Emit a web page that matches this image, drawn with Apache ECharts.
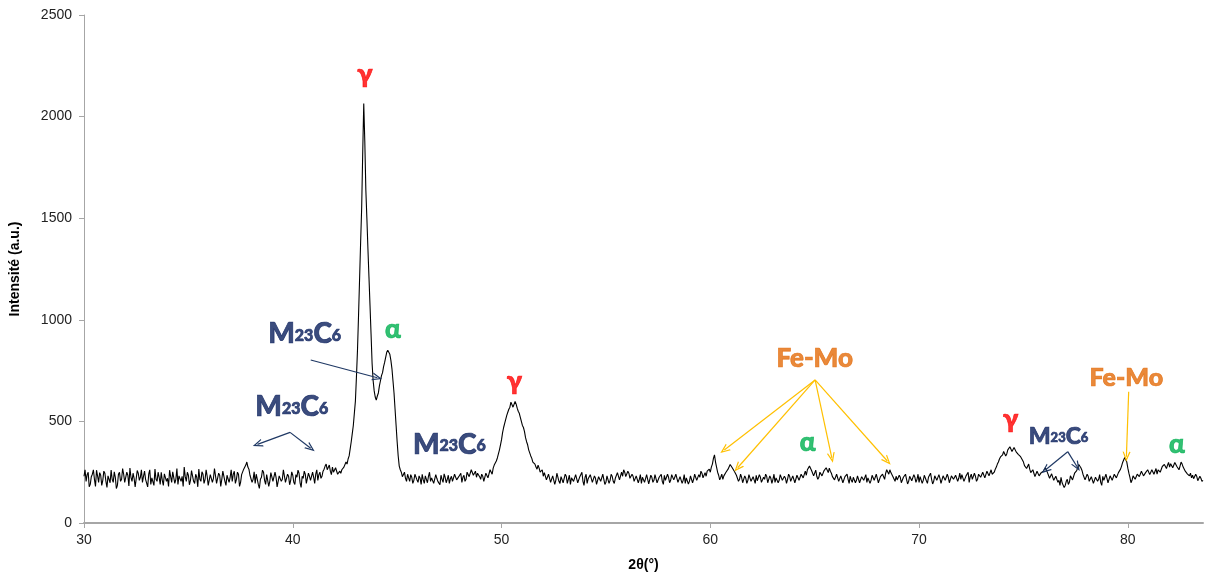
<!DOCTYPE html>
<html>
<head>
<meta charset="utf-8">
<script src="https://cdn.jsdelivr.net/npm/echarts@6/dist/echarts.min.js"></script>
<style>
html,body{margin:0;padding:0;background:#fff;}
#chart{width:1206px;height:579px;}
</style>
</head>
<body>
<div id="chart"></div>
<script>
// ---- data ----
const thetaStart = 30;   // first 2θ sample (°)
const thetaStep = 0.05;  // sampling step (°)
const intensity = [
230,262,205,238,250,178,190,228,240,262,215,180,260,232,200,248,235,185,210,255,
245,205,175,232,230,198,260,215,200,252,225,170,185,240,250,205,215,268,240,200,
195,250,235,182,270,225,205,245,220,178,180,258,245,210,225,262,200,230,255,215,
215,178,240,262,190,222,230,185,265,215,205,250,225,190,250,210,185,242,235,205,
220,180,260,228,200,252,245,195,215,268,190,232,240,205,230,180,275,228,205,250,
235,188,210,258,250,205,195,240,225,178,265,215,205,252,240,195,215,262,230,185,
190,238,245,200,220,268,260,195,200,245,235,180,215,255,250,205,185,235,240,200,
225,262,205,240,255,195,215,250,240,180,200,238,230,265,260,285,300,275,265,235,
240,200,215,252,195,240,235,190,170,215,225,260,250,210,190,238,230,180,205,248,
245,205,200,250,225,178,180,232,240,205,215,262,255,200,195,240,230,188,210,252,
235,200,190,238,225,260,245,198,175,230,220,255,240,195,200,245,230,210,215,250,
225,195,240,262,210,238,250,220,230,255,265,280,290,262,270,285,255,238,275,250,
250,272,265,240,235,255,245,262,260,275,280,300,290,315,330,365,400,440,480,540,
600,720,850,1020,1200,1380,1550,1820,2065,1880,1640,1500,1350,1210,1070,930,785,700,650,620,
605,625,640,675,700,725,740,770,790,815,840,850,855,830,800,760,700,640,560,480,
400,330,280,262,250,228,235,250,220,205,240,222,205,238,225,195,210,240,235,212,
200,232,220,190,240,212,195,232,215,198,230,250,205,222,225,195,190,238,220,205,
210,188,235,215,200,242,225,198,215,235,195,218,230,205,210,240,240,212,205,228,
220,245,200,225,235,205,215,250,245,228,230,262,260,235,240,255,225,245,250,228,
215,240,230,205,205,245,240,222,225,262,255,240,270,285,290,305,320,340,360,385,
410,445,470,490,510,530,545,560,570,595,590,570,575,598,585,565,550,540,520,500,
480,470,450,420,400,385,360,345,330,318,300,305,290,275,265,285,270,250,245,262,
230,248,250,212,215,240,235,200,200,232,225,190,210,245,240,205,195,228,220,198,
205,240,230,195,215,235,190,222,225,205,210,238,235,198,200,228,220,250,205,185,
225,240,195,218,215,238,235,200,205,232,220,190,190,228,230,205,210,240,215,190,
200,232,225,195,210,240,230,205,195,220,220,248,240,212,215,250,230,262,250,228,
235,255,245,220,220,240,230,205,205,232,225,198,215,238,195,225,220,200,205,238,
215,192,200,235,225,200,210,238,230,198,195,225,220,240,205,190,235,210,215,240,
225,198,210,238,245,212,215,240,235,200,200,228,225,195,210,238,195,222,220,192,
205,232,225,198,215,240,235,210,210,238,225,255,245,222,220,248,230,255,250,265,
250,275,290,318,335,300,275,250,235,212,225,240,215,232,230,250,245,265,265,288,
285,272,270,255,250,235,230,205,215,240,225,198,205,232,220,195,210,238,230,205,
200,228,220,195,235,208,210,238,225,200,200,225,215,240,230,198,205,232,220,195,
215,240,200,222,225,198,210,238,235,210,205,230,220,195,215,240,230,205,210,232,
225,198,205,235,230,210,215,240,240,222,220,255,235,262,260,280,275,258,250,232,
240,260,230,215,225,250,245,232,235,258,250,272,265,248,270,255,245,228,230,212,
220,240,235,205,210,232,225,198,205,228,220,240,215,195,230,212,200,225,220,198,
210,232,225,198,205,228,230,210,215,238,200,222,220,195,210,235,235,210,215,240,
220,198,205,228,225,240,235,215,245,262,255,240,262,248,240,228,220,205,230,212,
210,235,225,198,200,225,220,240,215,192,205,230,230,208,210,238,225,200,215,240,
200,228,225,195,210,235,230,208,195,225,220,245,215,192,205,232,235,210,210,238,
220,195,200,232,235,210,215,240,225,198,205,232,240,215,210,235,230,205,220,245,
215,238,235,205,210,232,225,250,200,228,240,215,220,245,230,205,215,240,245,225,
225,250,245,222,230,255,250,232,240,262,240,232,250,265,275,290,300,315,325,332,
335,352,350,330,340,360,362,375,370,352,358,372,365,350,345,338,340,328,320,310,
300,282,290,268,277,290,265,248,250,262,245,228,235,255,250,232,225,248,240,255,
255,272,270,248,240,220,225,242,235,210,215,230,230,200,210,185,225,198,200,175,
185,205,215,190,200,232,230,212,220,245,240,258,265,288,295,272,260,240,235,212,
215,240,230,205,205,228,220,195,195,225,225,205,215,238,200,185,230,210,210,240,
220,198,205,232,230,210,215,240,235,222,225,248,250,265,280,298,310,322,328,300,
270,245,225,198,210,232,235,215,220,240,245,228,230,255,250,232,225,248,240,262,
255,238,235,262,260,240,245,268,240,262,265,250,255,278,270,288,280,268,285,298,
275,292,290,272,280,298,295,278,285,262,280,300,290,275,270,255,260,242,250,232,
245,222,235,218,225,240,230,208,215,230,220,205,210
];
const xTicks = [30, 40, 50, 60, 70, 80];
const yTicks = [0, 500, 1000, 1500, 2000, 2500];
const xName = '2θ(°)';
const yName = 'Intensité (a.u.)';

// phase annotations: [text, 2θ, intensity, kind]
const phaseLabels = [
  ['γ', 43.45, 2210, 'gamma'],
  ['α', 44.8, 950, 'alpha'],
  ['M23C6', 40.57, 930, 'carbide'],
  ['M23C6', 39.95, 570, 'carbide'],
  ['M23C6', 47.5, 385, 'carbide'],
  ['γ', 50.61, 698, 'gamma'],
  ['Fe-Mo', 65.0, 810, 'femo'],
  ['α', 64.66, 398, 'alpha'],
  ['γ', 74.38, 508, 'gamma'],
  ['M23C6', 76.68, 425, 'carbideSmall'],
  ['Fe-Mo', 79.93, 712, 'femoSmall'],
  ['α', 82.35, 386, 'alpha']
];
// arrows: [from2θ, fromI, to2θ, toI, kind]
const arrows = [
  [40.86, 802, 44.05, 715, 'carbide'],
  [39.87, 446, 38.31, 387, 'carbide'],
  [39.87, 446, 40.86, 368, 'carbide'],
  [77.12, 351, 76.05, 261, 'carbide'],
  [77.12, 351, 77.57, 277, 'carbide'],
  [65.02, 704, 60.67, 359, 'femo'],
  [65.02, 704, 61.31, 272, 'femo'],
  [65.02, 704, 65.82, 321, 'femo'],
  [65.02, 704, 68.48, 305, 'femo'],
  [80.04, 646, 79.93, 326, 'femo']
];

// ---- styles ----
const annFont = 'Lato, "Open Sans", "Liberation Sans", sans-serif';
const kindStyle = {
  gamma: {color: '#ff0000', size: 27},
  alpha: {color: '#00b050', size: 26},
  carbide: {color: '#0a1f5c', size: 28, sub: 16},
  carbideSmall: {color: '#0a1f5c', size: 23, sub: 13},
  femo: {color: '#e46c0a', size: 26},
  femoSmall: {color: '#e46c0a', size: 25}
};
const arrowColor = {carbide: '#1f3864', femo: '#ffc000'};

const seriesData = intensity.map((v, i) => [+(thetaStart + i * thetaStep).toFixed(2), v]);

function labelItem(l) {
  const st = kindStyle[l[3]];
  const base = {fontWeight: 900, color: st.color, fontFamily: annFont, textBorderColor: st.color, textBorderWidth: 0.7};
  let formatter, rich;
  if (l[0] === 'M23C6') {
    formatter = '{m|M}{s|23}{m|C}{s|6}';
    rich = {
      m: Object.assign({fontSize: st.size}, base),
      s: Object.assign({fontSize: st.sub, padding: [0, 0, -3, 0]}, base)
    };
  } else {
    formatter = l[0];
    rich = {};
  }
  return {
    value: [l[1], l[2]],
    label: Object.assign({
      show: true, position: 'inside', formatter: formatter, rich: rich, fontSize: st.size
    }, base)
  };
}

const arrowHead = 'path://M5,0 L10,10 L8.4,10 L5,3.2 L1.6,10 L0,10 Z';
const axisFont = '"Liberation Sans", Arial, sans-serif';

const option = {
  animation: false,
  backgroundColor: '#ffffff',
  grid: {left: 82, right: 3, top: 15, bottom: 56, containLabel: false},
  xAxis: {
    type: 'value', min: 30, max: 83.6, interval: 10,
    name: xName, nameLocation: 'middle', nameGap: 35,
    nameTextStyle: {fontSize: 14, fontWeight: 'bold', color: '#000', fontFamily: axisFont},
    axisLine: {show: true, onZero: false, lineStyle: {color: '#a6a6a6', width: 2}},
    axisTick: {show: true, inside: false, length: 5, lineStyle: {color: '#a6a6a6'}, customValues: xTicks},
    axisLabel: {show: true, margin: 10, fontSize: 14, color: '#222', fontFamily: axisFont, customValues: xTicks,
                formatter: v => String(v)},
    splitLine: {show: false}
  },
  yAxis: {
    type: 'value', min: 0, max: 2500, interval: 500,
    name: yName, nameLocation: 'middle', nameGap: 62, nameRotate: 90,
    nameTextStyle: {fontSize: 14, fontWeight: 'bold', color: '#000', fontFamily: axisFont},
    axisLine: {show: true, lineStyle: {color: '#a6a6a6', width: 1}},
    axisTick: {show: true, inside: false, length: 5, lineStyle: {color: '#a6a6a6'}, customValues: yTicks},
    axisLabel: {show: true, margin: 12, fontSize: 14, color: '#222', fontFamily: axisFont, customValues: yTicks,
                formatter: v => String(v)},
    splitLine: {show: false}
  },
  series: [
    {
      type: 'line', data: seriesData, showSymbol: false, symbol: 'none',
      lineStyle: {color: '#000', width: 1.1}, sampling: null, silent: true, z: 2,
      markLine: {
        silent: true, animation: false,
        symbol: ['none', arrowHead], symbolSize: [8, 10],
        label: {show: false},
        data: arrows.map(a => [
          {coord: [a[0], a[1]], lineStyle: {color: arrowColor[a[4]], width: 1.2, type: 'solid'}, itemStyle: {color: arrowColor[a[4]]}},
          {coord: [a[2], a[3]]}
        ])
      }
    },
    {
      type: 'scatter', symbolSize: 0, silent: true, z: 5,
      data: phaseLabels.map(labelItem)
    }
  ]
};

const chart = echarts.init(document.getElementById('chart'), null, {renderer: 'canvas'});
chart.setOption(option);
</script>
</body>
</html>
